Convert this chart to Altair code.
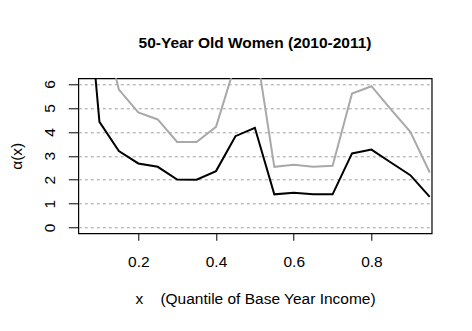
import altair as alt
import pandas as pd

quantiles = [0.05, 0.10, 0.15, 0.20, 0.25, 0.30, 0.35, 0.40, 0.45, 0.50,
             0.55, 0.60, 0.65, 0.70, 0.75, 0.80, 0.85, 0.90, 0.95]
alpha_est = [13.5, 4.42, 3.20, 2.68, 2.54, 2.01, 2.00, 2.36, 3.82, 4.17,
             1.39, 1.46, 1.39, 1.39, 3.10, 3.26, 2.72, 2.19, 1.28]
alpha_upper = [13.0, 9.1, 5.77, 4.81, 4.52, 3.58, 3.58, 4.21, 6.85, 7.8,
               2.54, 2.63, 2.54, 2.58, 5.60, 5.91, 4.94, 4.00, 2.30]
y_ticks = [0, 1, 2, 3, 4, 5, 6]
x_ticks = [0.2, 0.4, 0.6, 0.8]

rows = []
for q, a in zip(quantiles, alpha_est):
    rows.append({"q": q, "val": a, "series": "estimate"})
for q, a in zip(quantiles, alpha_upper):
    rows.append({"q": q, "val": a, "series": "upper"})
df = pd.DataFrame(rows)

FONT = "Liberation Sans"
FS = 15.5

x_scale = alt.Scale(domain=[0.0456, 0.955], nice=False, zero=False)
y_scale = alt.Scale(domain=[-0.24, 6.24], nice=False, zero=False)

lines = alt.Chart(df).mark_line(clip=True, strokeWidth=2).encode(
    x=alt.X("q:Q", scale=x_scale,
            axis=alt.Axis(values=x_ticks, format=".1f", grid=False, domain=False,
                          tickSize=7, tickColor="black", labelFontSize=FS,
                          labelFont=FONT, labelColor="black", labelPadding=14,
                          title="x\u00a0\u00a0\u00a0\u00a0(Quantile of Base Year Income)",
                          titleFont=FONT, titleFontSize=FS, titleFontWeight="normal",
                          titleColor="black", titlePadding=22)),
    y=alt.Y("val:Q", scale=y_scale,
            axis=alt.Axis(values=y_ticks, grid=True, gridDash=[3, 3],
                          gridColor="#a0a0a0", gridWidth=1, domain=False,
                          tickSize=10, tickColor="black", labelFontSize=FS,
                          labelFont=FONT, labelColor="black", labelAngle=270,
                          labelAlign="center", labelBaseline="bottom",
                          labelPadding=11, title="α(x)", titleFont=FONT,
                          titleFontSize=FS, titleFontWeight="normal",
                          titleColor="black", titlePadding=18)),
    color=alt.Color("series:N",
                    scale=alt.Scale(domain=["estimate", "upper"],
                                    range=["#000000", "#a9a9a9"]),
                    legend=None),
    order=alt.Order("q:Q"),
)

chart = lines.properties(
    width=353.4,
    height=155,
    background="white",
    title=alt.TitleParams("50-Year Old Women (2010-2011)", font=FONT,
                          fontSize=FS, fontWeight="bold", color="black",
                          anchor="middle", offset=27),
    autosize=alt.AutoSizeParams(type="none"),
    padding={"left": 70.3, "top": 70.3, "right": 30, "bottom": 90},
).configure_view(stroke="black", strokeWidth=1.2)

chart.save("out.html", embed_options={"renderer": "svg", "actions": False})
